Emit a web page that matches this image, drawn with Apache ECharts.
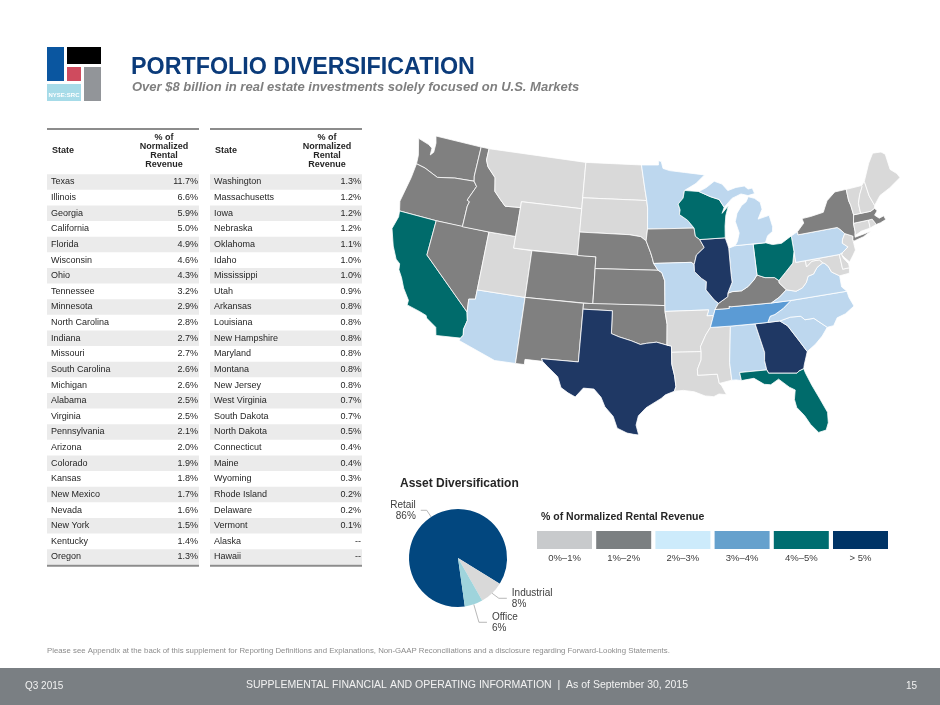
<!DOCTYPE html>
<html><head><meta charset="utf-8">
<script src="https://cdn.jsdelivr.net/npm/echarts@6/dist/echarts.min.js"></script>
<style>html,body{margin:0;padding:0;background:#fff;}#c{width:940px;height:705px;}</style>
</head><body><div id="c"></div>
<script>
// ---------------- DATA ----------------
const tableLeftStates = ['Texas','Illinois','Georgia','California','Florida','Wisconsin','Ohio','Tennessee','Minnesota','North Carolina','Indiana','Missouri','South Carolina','Michigan','Alabama','Virginia','Pennsylvania','Arizona','Colorado','Kansas','New Mexico','Nevada','New York','Kentucky','Oregon'];
const tableLeftValues = [11.7,6.6,5.9,5.0,4.9,4.6,4.3,3.2,2.9,2.8,2.7,2.7,2.6,2.6,2.5,2.5,2.1,2.0,1.9,1.8,1.7,1.6,1.5,1.4,1.3];
const tableRightStates = ['Washington','Massachusetts','Iowa','Nebraska','Oklahoma','Idaho','Mississippi','Utah','Arkansas','Louisiana','New Hampshire','Maryland','Montana','New Jersey','West Virginia','South Dakota','North Dakota','Connecticut','Maine','Wyoming','Rhode Island','Delaware','Vermont','Alaska','Hawaii'];
const tableRightValues = [1.3,1.2,1.2,1.2,1.1,1.0,1.0,0.9,0.8,0.8,0.8,0.8,0.8,0.8,0.7,0.7,0.5,0.4,0.4,0.3,0.2,0.2,0.1,null,null];
const assetCategories = ['Retail','Industrial','Office'];
const assetValues = [86,8,6];
const legendLabels = ['0%–1%','1%–2%','2%–3%','3%–4%','4%–5%','> 5%'];
// bucket shown on the reference map where it differs from the rounded table value
const mapBucketOverride = {'Mississippi':0};

// ---------------- STYLES ----------------
const FONT = '"Liberation Sans", Arial, sans-serif';
const legendColors = ['#c8cacc','#7b7f81','#cdebfb','#66a1cd','#006d70','#003466'];
const mapColors = ['#d9d9d9','#808080','#bdd7ee','#5b9bd5','#006b6b','#1f3864'];
const pieColors = ['#02477f','#d9d9d9','#9fd4dc'];

// ---------------- SIMPLIFIED STATE OUTLINES (lon, lat) ----------------
const SHAPES = {
'Washington':[[[-124.7,48.4],[-124.1,47.0],[-124.0,46.25],[-122.9,46.1],[-121.2,45.6],[-119.2,45.9],[-116.92,46.0],[-117.04,46.43],[-117.04,49.0],[-122.76,49.0],[-122.5,48.4],[-122.45,47.6],[-122.75,47.3],[-122.8,47.9],[-123.3,48.12]]],
'Oregon':[[[-124.0,46.25],[-124.1,45.0],[-124.5,42.8],[-124.2,42.0],[-120.0,42.0],[-117.03,42.0],[-117.03,43.8],[-116.9,44.2],[-117.2,44.3],[-116.5,45.6],[-116.92,46.0],[-119.2,45.9],[-121.2,45.6],[-122.9,46.1]]],
'California':[[[-124.2,42.0],[-124.1,41.5],[-124.4,40.4],[-123.7,39.0],[-123.0,38.0],[-122.5,37.7],[-122.4,37.2],[-121.9,36.6],[-121.4,35.8],[-120.6,34.9],[-120.6,34.5],[-119.2,34.2],[-118.5,34.0],[-118.4,33.8],[-117.3,33.2],[-117.1,32.53],[-114.72,32.72],[-114.5,33.0],[-114.6,33.5],[-114.4,34.3],[-114.6,35.0],[-120.0,39.0],[-120.0,42.0]]],
'Nevada':[[[-120.0,42.0],[-114.04,42.0],[-114.04,36.2],[-114.7,36.1],[-114.6,35.0],[-120.0,39.0]]],
'Arizona':[[[-114.04,37.0],[-109.05,37.0],[-109.05,31.33],[-111.07,31.33],[-114.8,32.5],[-114.72,32.72],[-114.5,33.0],[-114.6,33.5],[-114.4,34.3],[-114.6,35.0],[-114.7,36.1],[-114.04,36.2]]],
'Utah':[[[-114.04,42.0],[-111.05,42.0],[-111.05,41.0],[-109.05,41.0],[-109.05,37.0],[-114.04,37.0]]],
'Idaho':[[[-117.04,49.0],[-116.05,49.0],[-116.05,48.0],[-115.7,47.45],[-114.6,46.65],[-114.3,45.5],[-113.5,44.9],[-112.8,44.4],[-111.05,44.5],[-111.05,42.0],[-114.04,42.0],[-117.03,42.0],[-117.03,43.8],[-116.9,44.2],[-117.2,44.3],[-116.5,45.6],[-116.92,46.0],[-117.04,46.43]]],
'Montana':[[[-116.05,49.0],[-104.05,49.0],[-104.05,45.0],[-111.05,45.0],[-111.05,44.5],[-112.8,44.4],[-113.5,44.9],[-114.3,45.5],[-114.6,46.65],[-115.7,47.45],[-116.05,48.0]]],
'Wyoming':[[[-111.05,45.0],[-104.05,45.0],[-104.05,41.0],[-111.05,41.0]]],
'Colorado':[[[-109.05,41.0],[-102.05,41.0],[-102.05,37.0],[-109.05,37.0]]],
'New Mexico':[[[-109.05,37.0],[-103.0,37.0],[-103.06,32.0],[-106.62,32.0],[-106.5,31.78],[-108.2,31.78],[-108.2,31.33],[-109.05,31.33]]],
'North Dakota':[[[-104.05,49.0],[-97.23,49.0],[-96.8,47.0],[-96.56,45.94],[-104.05,45.94]]],
'South Dakota':[[[-104.05,45.94],[-96.56,45.94],[-96.45,45.3],[-96.45,43.5],[-96.6,42.5],[-97.2,42.85],[-98.5,43.0],[-104.05,43.0]]],
'Nebraska':[[[-104.05,43.0],[-98.5,43.0],[-97.2,42.85],[-96.6,42.5],[-96.1,41.5],[-95.9,41.0],[-95.77,40.58],[-95.3,40.0],[-102.05,40.0],[-102.05,41.0],[-104.05,41.0]]],
'Kansas':[[[-102.05,40.0],[-95.3,40.0],[-94.9,39.8],[-94.6,39.1],[-94.62,37.0],[-102.04,37.0]]],
'Oklahoma':[[[-103.0,37.0],[-94.62,37.0],[-94.62,36.5],[-94.43,35.4],[-94.48,33.64],[-95.5,33.9],[-96.5,33.8],[-97.1,33.7],[-98.0,34.0],[-99.2,34.3],[-100.0,34.56],[-100.0,36.5],[-103.0,36.5]]],
'Texas':[[[-106.62,32.0],[-103.06,32.0],[-103.0,36.5],[-100.0,36.5],[-100.0,34.56],[-99.2,34.3],[-98.0,34.0],[-97.1,33.7],[-96.5,33.8],[-95.5,33.9],[-94.48,33.64],[-94.04,33.55],[-94.04,32.0],[-93.8,31.0],[-93.7,30.1],[-93.85,29.7],[-94.7,29.4],[-95.1,29.1],[-96.5,28.3],[-97.2,27.6],[-97.4,26.8],[-97.15,25.95],[-97.6,26.0],[-98.2,26.1],[-99.1,26.5],[-99.5,27.5],[-100.3,28.3],[-100.7,29.1],[-101.4,29.77],[-102.4,29.8],[-103.1,29.0],[-103.8,29.3],[-104.5,29.7],[-104.9,30.6],[-106.0,31.4],[-106.5,31.78]]],
'Minnesota':[[[-97.23,49.0],[-95.15,49.0],[-95.15,49.38],[-94.8,49.3],[-94.6,48.7],[-93.8,48.5],[-92.0,48.3],[-89.6,48.0],[-90.7,47.3],[-92.1,46.75],[-92.3,46.1],[-92.9,45.6],[-92.7,45.1],[-92.8,44.7],[-91.9,44.2],[-91.2,43.5],[-96.45,43.5],[-96.45,45.3],[-96.56,45.94],[-96.8,47.0]]],
'Iowa':[[[-96.45,43.5],[-91.2,43.5],[-91.1,42.8],[-90.64,42.5],[-90.2,41.8],[-91.1,41.2],[-91.4,40.4],[-91.7,40.6],[-95.77,40.58],[-95.9,41.0],[-96.1,41.5],[-96.6,42.5]]],
'Missouri':[[[-95.77,40.58],[-91.7,40.6],[-91.4,40.4],[-91.4,39.8],[-90.7,39.2],[-90.2,38.9],[-90.3,38.2],[-89.5,37.3],[-89.1,37.0],[-89.5,36.5],[-89.7,36.0],[-90.37,36.0],[-90.15,36.5],[-94.62,36.5],[-94.62,37.0],[-94.6,39.1],[-94.9,39.8],[-95.3,40.0]]],
'Arkansas':[[[-94.62,36.5],[-90.15,36.5],[-90.37,36.0],[-89.7,36.0],[-90.1,35.0],[-90.6,34.4],[-91.2,33.4],[-91.15,33.0],[-94.04,33.02],[-94.04,33.55],[-94.48,33.64],[-94.43,35.4]]],
'Louisiana':[[[-94.04,33.02],[-91.15,33.0],[-91.2,32.3],[-91.6,31.5],[-91.6,31.0],[-89.73,31.0],[-89.6,30.2],[-89.4,30.0],[-89.0,29.2],[-89.7,29.3],[-90.2,29.1],[-91.0,29.2],[-92.0,29.6],[-93.0,29.75],[-93.85,29.7],[-93.7,30.1],[-93.8,31.0],[-94.04,32.0]]],
'Mississippi':[[[-91.15,33.0],[-91.2,33.4],[-90.6,34.4],[-90.1,35.0],[-88.2,35.0],[-88.1,34.9],[-88.47,31.9],[-88.4,30.4],[-89.6,30.2],[-89.73,31.0],[-91.6,31.0],[-91.6,31.5],[-91.2,32.3]]],
'Alabama':[[[-88.2,35.0],[-85.6,35.0],[-85.0,32.5],[-85.1,31.8],[-85.0,31.0],[-87.6,31.0],[-87.5,30.3],[-88.0,30.4],[-88.4,30.4],[-88.47,31.9],[-88.1,34.9]]],
'Georgia':[[[-85.6,35.0],[-84.32,35.0],[-83.1,35.0],[-82.4,34.5],[-81.5,33.1],[-80.9,32.1],[-81.4,31.0],[-81.5,30.7],[-82.0,30.55],[-82.2,30.4],[-84.86,30.7],[-85.0,31.0],[-85.1,31.8],[-85.0,32.5]]],
'Florida':[[[-87.6,31.0],[-85.0,31.0],[-84.86,30.7],[-82.2,30.4],[-82.0,30.55],[-81.5,30.7],[-81.4,30.3],[-81.0,29.2],[-80.5,28.0],[-80.0,26.7],[-80.1,25.8],[-80.4,25.2],[-81.1,25.1],[-81.7,25.9],[-82.1,26.7],[-82.7,27.5],[-82.8,28.2],[-82.6,29.0],[-83.1,29.3],[-84.0,30.1],[-84.8,29.7],[-85.4,29.8],[-86.3,30.4],[-87.5,30.3]]],
'South Carolina':[[[-83.1,35.0],[-82.0,35.2],[-81.0,35.15],[-80.9,35.1],[-80.6,34.8],[-79.7,34.8],[-78.55,33.86],[-79.2,33.2],[-80.0,32.6],[-80.9,32.1],[-81.5,33.1],[-82.4,34.5]]],
'North Carolina':[[[-84.32,35.0],[-83.1,35.0],[-82.0,35.2],[-81.0,35.15],[-80.9,35.1],[-80.6,34.8],[-79.7,34.8],[-78.55,33.86],[-77.9,33.9],[-77.4,34.5],[-76.5,34.7],[-75.5,35.2],[-75.8,36.0],[-75.87,36.55],[-81.68,36.59],[-82.6,36.0],[-83.5,35.6],[-84.0,35.5]]],
'Tennessee':[[[-89.5,36.5],[-88.05,36.5],[-88.05,36.68],[-87.85,36.63],[-83.7,36.6],[-81.68,36.59],[-82.6,36.0],[-83.5,35.6],[-84.0,35.5],[-84.32,35.0],[-85.6,35.0],[-88.2,35.0],[-90.1,35.0],[-89.7,36.0]]],
'Kentucky':[[[-89.5,36.5],[-89.1,37.0],[-88.1,37.5],[-88.05,37.8],[-87.6,37.9],[-86.6,37.9],[-85.9,38.2],[-85.2,38.7],[-84.81,39.1],[-84.0,38.8],[-83.0,38.7],[-82.6,38.4],[-82.6,38.2],[-81.97,37.54],[-82.8,37.0],[-83.7,36.6],[-87.85,36.63],[-88.05,36.68],[-88.05,36.5]]],
'Virginia':[[[-83.7,36.6],[-81.68,36.59],[-75.87,36.55],[-76.3,37.0],[-76.25,37.95],[-77.0,38.4],[-77.2,38.9],[-77.5,39.2],[-77.7,39.3],[-78.4,39.0],[-78.9,38.5],[-79.5,38.4],[-79.8,37.9],[-80.3,37.5],[-81.0,37.3],[-81.97,37.54],[-82.8,37.0]]],
'West Virginia':[[[-82.6,38.2],[-82.6,38.4],[-81.8,39.0],[-80.85,39.7],[-80.52,40.64],[-80.52,39.72],[-79.48,39.72],[-79.48,39.2],[-78.8,39.6],[-78.0,39.6],[-77.7,39.3],[-78.4,39.0],[-78.9,38.5],[-79.5,38.4],[-79.8,37.9],[-80.3,37.5],[-81.0,37.3],[-81.97,37.54]]],
'Maryland':[[[-79.48,39.72],[-75.79,39.72],[-75.79,38.45],[-75.05,38.45],[-75.2,38.0],[-76.25,37.95],[-77.0,38.4],[-77.2,38.9],[-77.5,39.2],[-77.7,39.3],[-78.0,39.6],[-78.8,39.6],[-79.48,39.2]]],
'Delaware':[[[-75.79,39.72],[-75.4,39.83],[-75.55,39.65],[-75.45,39.35],[-75.05,38.8],[-75.05,38.45],[-75.79,38.45]]],
'Pennsylvania':[[[-80.52,39.72],[-80.52,42.0],[-80.1,42.15],[-79.76,42.27],[-79.76,42.0],[-75.36,42.0],[-75.1,41.8],[-74.7,41.36],[-75.1,40.9],[-75.2,40.6],[-74.7,40.2],[-75.4,39.83],[-75.79,39.72]]],
'New Jersey':[[[-74.7,41.36],[-73.9,41.0],[-74.0,40.7],[-74.0,40.4],[-74.0,39.8],[-74.4,39.4],[-74.9,38.93],[-75.3,39.35],[-75.55,39.65],[-75.4,39.83],[-74.7,40.2],[-75.2,40.6],[-75.1,40.9]]],
'New York':[[[-79.76,42.0],[-75.36,42.0],[-75.1,41.8],[-74.7,41.36],[-73.9,41.0],[-74.0,40.7],[-73.95,40.57],[-72.8,40.75],[-71.9,41.07],[-72.6,40.98],[-73.7,40.87],[-73.66,41.0],[-73.55,41.3],[-73.5,42.05],[-73.25,42.75],[-73.3,43.6],[-73.4,44.0],[-73.35,45.0],[-74.7,45.0],[-75.8,44.4],[-76.2,43.9],[-76.5,43.5],[-78.0,43.35],[-79.0,43.3],[-78.9,42.9],[-79.76,42.27]]],
'Connecticut':[[[-73.5,42.05],[-71.8,42.02],[-71.85,41.33],[-72.9,41.25],[-73.66,41.0],[-73.55,41.3]]],
'Rhode Island':[[[-71.8,42.02],[-71.38,42.02],[-71.2,41.7],[-71.12,41.5],[-71.85,41.33]]],
'Massachusetts':[[[-73.5,42.05],[-73.25,42.75],[-72.45,42.73],[-71.3,42.7],[-70.8,42.87],[-70.6,42.6],[-71.0,42.3],[-70.6,41.95],[-70.05,42.05],[-69.95,41.7],[-70.6,41.55],[-71.12,41.5],[-71.2,41.7],[-71.38,42.02],[-71.8,42.02]]],
'Vermont':[[[-73.35,45.0],[-71.5,45.01],[-71.5,44.9],[-72.0,44.3],[-72.4,43.6],[-72.45,42.73],[-73.25,42.75],[-73.3,43.6],[-73.4,44.0]]],
'New Hampshire':[[[-71.5,45.01],[-71.08,45.3],[-71.0,44.0],[-70.7,43.1],[-70.8,42.87],[-71.3,42.7],[-72.45,42.73],[-72.4,43.6],[-72.0,44.3],[-71.5,44.9]]],
'Maine':[[[-71.08,45.3],[-70.0,46.7],[-69.2,47.45],[-68.2,47.35],[-67.8,47.07],[-67.8,45.7],[-67.2,45.2],[-67.0,44.8],[-68.5,44.2],[-69.8,43.8],[-70.7,43.1],[-71.0,44.0]]],
'Ohio':[[[-84.81,41.73],[-83.45,41.73],[-82.7,41.5],[-81.7,41.5],[-80.52,42.0],[-80.52,40.64],[-80.85,39.7],[-81.8,39.0],[-82.6,38.4],[-83.0,38.7],[-84.0,38.8],[-84.81,39.1]]],
'Indiana':[[[-87.52,41.6],[-86.8,41.76],[-84.81,41.76],[-84.81,39.1],[-85.2,38.7],[-85.9,38.2],[-86.6,37.9],[-87.6,37.9],[-88.05,37.8],[-87.5,38.7],[-87.53,39.35]]],
'Illinois':[[[-90.64,42.5],[-87.8,42.5],[-87.6,41.9],[-87.52,41.6],[-87.53,39.35],[-87.5,38.7],[-88.05,37.8],[-88.1,37.5],[-89.1,37.0],[-89.5,37.3],[-90.3,38.2],[-90.2,38.9],[-90.7,39.2],[-91.4,39.8],[-91.4,40.4],[-91.1,41.2],[-90.2,41.8]]],
'Wisconsin':[[[-92.1,46.75],[-90.4,46.6],[-89.1,46.1],[-88.1,45.8],[-87.6,45.1],[-87.9,44.6],[-87.1,45.2],[-87.5,44.4],[-87.7,43.5],[-87.8,42.5],[-90.64,42.5],[-91.1,42.8],[-91.2,43.5],[-91.9,44.2],[-92.8,44.7],[-92.7,45.1],[-92.9,45.6],[-92.3,46.1]]],
'Michigan':[
  [[[-86.8,41.76],[-86.5,42.1],[-86.2,42.8],[-86.5,43.8],[-86.2,44.5],[-85.6,45.1],[-85.0,45.4],[-84.7,45.8],[-84.0,45.6],[-83.4,45.2],[-83.3,44.6],[-83.9,43.8],[-82.6,44.0],[-82.4,43.0],[-82.5,42.6],[-83.1,42.3],[-83.45,41.73],[-84.81,41.76]]],
  [[[-90.4,46.6],[-89.5,46.9],[-88.5,47.4],[-87.6,47.1],[-87.0,46.5],[-86.0,46.7],[-85.0,46.75],[-84.6,46.45],[-84.1,46.5],[-83.9,46.0],[-84.7,45.9],[-85.5,46.1],[-86.6,45.8],[-87.6,45.1],[-88.1,45.8],[-89.1,46.1]]]
]
};
const MULTI = {'Michigan':true};

const features = Object.keys(SHAPES).map(name => ({
  type:'Feature', properties:{name},
  geometry: MULTI[name] ? {type:'MultiPolygon', coordinates:SHAPES[name].map(p=>p.map(r=>r.concat([r[0]])))}
                        : {type:'Polygon', coordinates:SHAPES[name].map(r=>r.concat([r[0]]))}
}));
echarts.registerMap('USA', {type:'FeatureCollection', features});

// Albers equal-area conic projection
const D = Math.PI/180, P1=29.5*D, P2=45.5*D, P0=37.5*D, L0=-96*D;
const NN=(Math.sin(P1)+Math.sin(P2))/2, CC=Math.cos(P1)**2+2*NN*Math.sin(P1);
const R0=Math.sqrt(CC-2*NN*Math.sin(P0))/NN, K=1000;
const albers = {
  project: ([lon,lat]) => { const r=Math.sqrt(CC-2*NN*Math.sin(lat*D))/NN, t=NN*(lon*D-L0); return [K*r*Math.sin(t), -K*(R0-r*Math.cos(t))]; },
  unproject: ([x,y]) => { x/=K; y=-y/K; const ry=R0-y, r=Math.sqrt(x*x+ry*ry), t=Math.atan2(x,ry); return [(L0+t/NN)/D, Math.asin((CC-r*r*NN*NN)/(2*NN))/D]; }
};

function bucket(name, v){
  if (mapBucketOverride[name] !== undefined) return mapBucketOverride[name];
  return v > 5 ? 5 : Math.min(4, Math.floor(v));
}
const allStates = tableLeftStates.concat(tableRightStates);
const allValues = tableLeftValues.concat(tableRightValues);
const mapData = allStates.map((s,i)=>({name:s, value:allValues[i]}))
  .filter(d => d.value !== null && SHAPES[d.name])
  .map(d => ({name:d.name, value:d.value, itemStyle:{areaColor: mapColors[bucket(d.name,d.value)]}}));

// ---------------- GRAPHICS (page furniture, tables, legend) ----------------
const g = [];
const txt = (x,y,text,opt={}) => g.push({type:'text', x, y, silent:true, z:10, style:Object.assign({text, fontFamily:FONT, fontSize:9, fill:'#262626', verticalAlign:'middle', align:'left'}, opt)});
const rect = (x,y,w,h,fill,z=1) => g.push({type:'rect', silent:true, z, shape:{x,y,width:w,height:h}, style:{fill}});

// logo
rect(47,47,17,34,'#0a56a0'); rect(67,47,34,17,'#000000'); rect(67,67,14,14,'#cf4b5e');
rect(84,67,17,34,'#929599'); rect(47,84,34,17,'#a6dbe8');
txt(64,95,'NYSE:SRC',{fontSize:6,fill:'#ffffff',fontWeight:'bold',align:'center'});
// title
txt(131,68,'PORTFOLIO DIVERSIFICATION',{fontSize:23.3,fontWeight:'bold',fill:'#0b3b7a'});
txt(132,87,'Over $8 billion in real estate investments solely focused on U.S. Markets',{fontSize:13,fontWeight:'bold',fontStyle:'italic',fill:'#7f7f7f'});

// tables
const ROW0 = 174.2, RH = 15.625;
function table(x0, x1, names, vals){
  rect(x0,128,x1-x0,2,'#8c8c8c');
  txt(x0+5,151,'State',{fontWeight:'bold'});
  const cx = x1-35;
  ['% of','Normalized','Rental','Revenue'].forEach((t,i)=>txt(cx,138+i*9,t,{fontWeight:'bold',align:'center'}));
  names.forEach((n,i)=>{
    const y = ROW0 + i*RH;
    if (i%2===0) rect(x0,y,x1-x0,RH,'#ebebeb');
    txt(x0+4,y+RH/2,n);
    txt(x1-1,y+RH/2, vals[i]===null ? '--' : vals[i].toFixed(1)+'%',{align:'right'});
  });
  rect(x0,ROW0+names.length*RH,x1-x0,2,'#8c8c8c');
}
table(47,199,tableLeftStates,tableLeftValues);
table(210,362,tableRightStates,tableRightValues);

// pie title
txt(400,484,'Asset Diversification',{fontSize:12,fontWeight:'bold'});
// colour key
txt(541,517,'% of Normalized Rental Revenue',{fontSize:10.5,fontWeight:'bold'});
legendLabels.forEach((l,i)=>{
  const x = 537 + i*59.2;
  rect(x,531,55,18,legendColors[i]);
  txt(x+27.5,558,l,{fontSize:9.5,fill:'#404040',align:'center'});
});

// footnote & footer
txt(47,651,'Please see Appendix at the back of this supplement for Reporting Definitions and Explanations, Non-GAAP Reconciliations and a disclosure regarding Forward-Looking Statements.',{fontSize:7.8,fill:'#8c8c8c'});
rect(0,668,940,37,'#7a7f83');
txt(25,686,'Q3 2015',{fontSize:10,fill:'#f2f2f2'});
txt(467,685,'SUPPLEMENTAL FINANCIAL AND OPERATING INFORMATION  |  As of September 30, 2015',{fontSize:10.5,fill:'#f2f2f2',align:'center'});
txt(917,686,'15',{fontSize:10,fill:'#f2f2f2',align:'right'});

// ---------------- CHART ----------------
const pieLabelLines = {Retail:[8,6], Industrial:[7,8], Office:[16,8]};
const chart = echarts.init(document.getElementById('c'), null, {renderer:'canvas'});
chart.setOption({
  backgroundColor:'#ffffff',
  animation:false,
  graphic: g,
  series:[
    {
      type:'map', map:'USA', projection: albers, roam:false, selectedMode:false, silent:true,
      left:392, top:136, width:508, height:299,
      label:{show:false}, emphasis:{disabled:true},
      itemStyle:{borderColor:'#ffffff', borderWidth:0.8, areaColor:'#d9d9d9'},
      data: mapData
    },
    {
      type:'pie', center:[458,558], radius:49, startAngle:-82, clockwise:true, silent:true,
      avoidLabelOverlap:true, minShowLabelAngle:0,
      labelLayout:{hideOverlap:false},
      label:{show:true, formatter:'{b}\n{c}%', fontFamily:FONT, fontSize:10, color:'#404040', lineHeight:11},
      labelLine:{show:true, lineStyle:{color:'#a6a6a6', width:0.8}},
      itemStyle:{borderWidth:0},
      data: assetCategories.map((c,i)=>({name:c, value:assetValues[i], itemStyle:{color:pieColors[i]},
        labelLine:{length:pieLabelLines[c][0], length2:pieLabelLines[c][1]}}))
    }
  ]
});
</script></body></html>
